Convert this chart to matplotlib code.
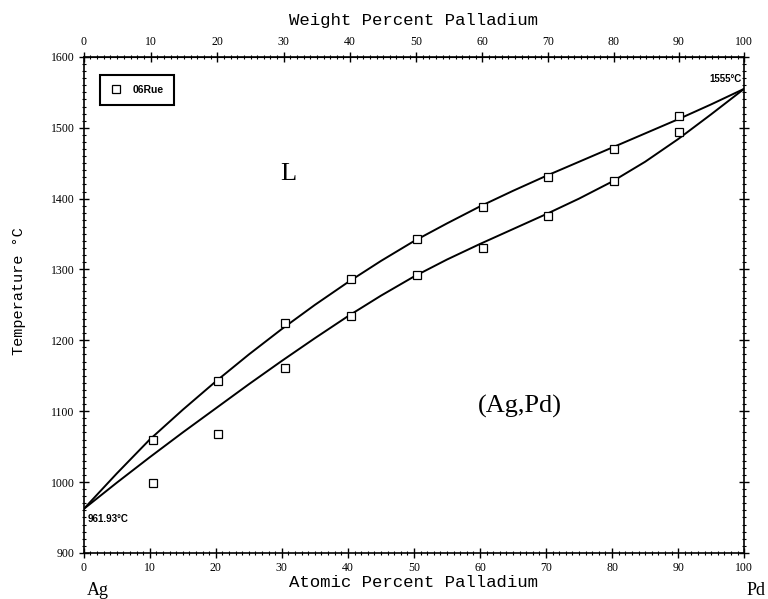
"""
Ag-Pd phase diagram: liquidus / solidus with 06Rue data points.
"""

import matplotlib
matplotlib.use('Agg')
import matplotlib.pyplot as plt
from matplotlib.ticker import MultipleLocator, FixedLocator
import numpy as np

# Curve points, atomic percent Pd vs temperature (C)
curve_at = [0, 5, 10, 15, 20, 25, 30, 35, 40, 45, 50, 55, 60, 65, 70, 75, 80, 85, 90, 95, 100]
liquidus = [961.93, 1012, 1060, 1102, 1142, 1180, 1216, 1250, 1282, 1312, 1340, 1365, 1389,
            1411, 1432, 1452, 1472, 1492, 1512, 1533, 1555]
solidus = [961.93, 999, 1035, 1070, 1104, 1138, 1171, 1203, 1234, 1263, 1290, 1314, 1336,
           1357, 1378, 1400, 1424, 1452, 1484, 1519, 1555]

# 06Rue measurements
rue_at = [10.5, 20.3, 30.5, 40.5, 50.5, 60.5, 70.3, 80.3, 90.2]
rue_liq = [1060, 1142, 1224, 1287, 1343, 1388, 1430, 1470, 1517]
rue_sol = [999, 1068, 1161, 1234, 1292, 1330, 1375, 1425, 1494]

M_AG, M_PD = 107.87, 106.42

def at_to_wt(a):
    a = np.asarray(a, dtype=float)
    return 100 * a * M_PD / (a * M_PD + (100 - a) * M_AG)

def wt_to_at(w):
    w = np.asarray(w, dtype=float)
    return 100 * (w / M_PD) / (w / M_PD + (100 - w) / M_AG)

tick_font = {'family': 'Liberation Serif', 'size': 8.5}
label_font = {'family': 'Liberation Mono', 'size': 12.5}
marker_style = dict(ls='none', marker='s', ms=5.5, mfc='white', mec='black', mew=0.9)

fig = plt.figure(figsize=(7.68, 5.99), dpi=100)
ax = fig.add_axes([0.109, 0.077, 0.860, 0.828])

ax.plot(curve_at, liquidus, color='black', lw=1.4)
ax.plot(curve_at, solidus, color='black', lw=1.4)
ax.plot(rue_at, rue_liq, **marker_style)
ax.plot(rue_at, rue_sol, **marker_style)

ax.set_xlim(0, 100)
ax.set_ylim(900, 1600)

ax.xaxis.set_major_locator(MultipleLocator(10))
ax.xaxis.set_minor_locator(MultipleLocator(1))
ax.yaxis.set_major_locator(MultipleLocator(100))
ax.yaxis.set_minor_locator(MultipleLocator(10))
ax.tick_params(which='major', direction='inout', length=7, width=1, right=True, pad=3)
ax.tick_params(which='minor', direction='inout', length=3.5, width=0.8, right=True)
ax.tick_params(axis='y', which='both', labelright=False)
for lab in ax.get_xticklabels() + ax.get_yticklabels():
    lab.set_fontfamily(tick_font['family'])
    lab.set_fontsize(tick_font['size'])
for sp in ax.spines.values():
    sp.set_linewidth(1.2)

ax.set_xlabel('Atomic Percent Palladium', fontdict=label_font, labelpad=1)
ax.set_ylabel('Temperature \u00b0C', fontdict={'family': 'Liberation Mono', 'size': 11})
ax.yaxis.set_label_coords(-0.088, 0.528)

# Top axis: weight percent
top = ax.secondary_xaxis('top', functions=(at_to_wt, wt_to_at))
top.xaxis.set_major_locator(FixedLocator(list(range(0, 101, 10))))
top.xaxis.set_minor_locator(FixedLocator(list(range(0, 101, 1))))
top.tick_params(which='major', direction='inout', length=7, width=1, pad=3)
top.tick_params(which='minor', direction='inout', length=3.5, width=0.8)
for lab in top.get_xticklabels():
    lab.set_fontfamily(tick_font['family'])
    lab.set_fontsize(tick_font['size'])
top.set_xlabel('Weight Percent Palladium', fontdict=label_font, labelpad=8)

# Phase labels and melting points
ax.text(31, 1435, 'L', family='Liberation Serif', fontsize=19, ha='center', va='center')
ax.text(66, 1107, '(Ag,Pd)', family='Liberation Serif', fontsize=19, ha='center', va='center')
ax.text(0.6, 955, '961.93\u00b0C', family='Liberation Sans', fontsize=7, fontweight='bold',
        ha='left', va='top')
ax.text(99.6, 1562, '1555\u00b0C', family='Liberation Sans', fontsize=7, fontweight='bold',
        ha='right', va='bottom')

# Legend box
leg = ax.legend([plt.Line2D([], [], **marker_style)], ['06Rue'], loc='upper left',
                bbox_to_anchor=(0.017, 0.975), fancybox=False, framealpha=1, edgecolor='black',
                handlelength=1, handletextpad=1.1, borderpad=1.0,
                prop={'family': 'Liberation Sans', 'size': 7.5, 'weight': 'bold'})
leg.get_frame().set_linewidth(1.5)

fig.text(0.127, 0.007, 'Ag', family='Liberation Serif', fontsize=13, ha='center', va='baseline')
fig.text(0.984, 0.007, 'Pd', family='Liberation Serif', fontsize=13, ha='center', va='baseline')

fig.savefig('out.png', dpi=100)
